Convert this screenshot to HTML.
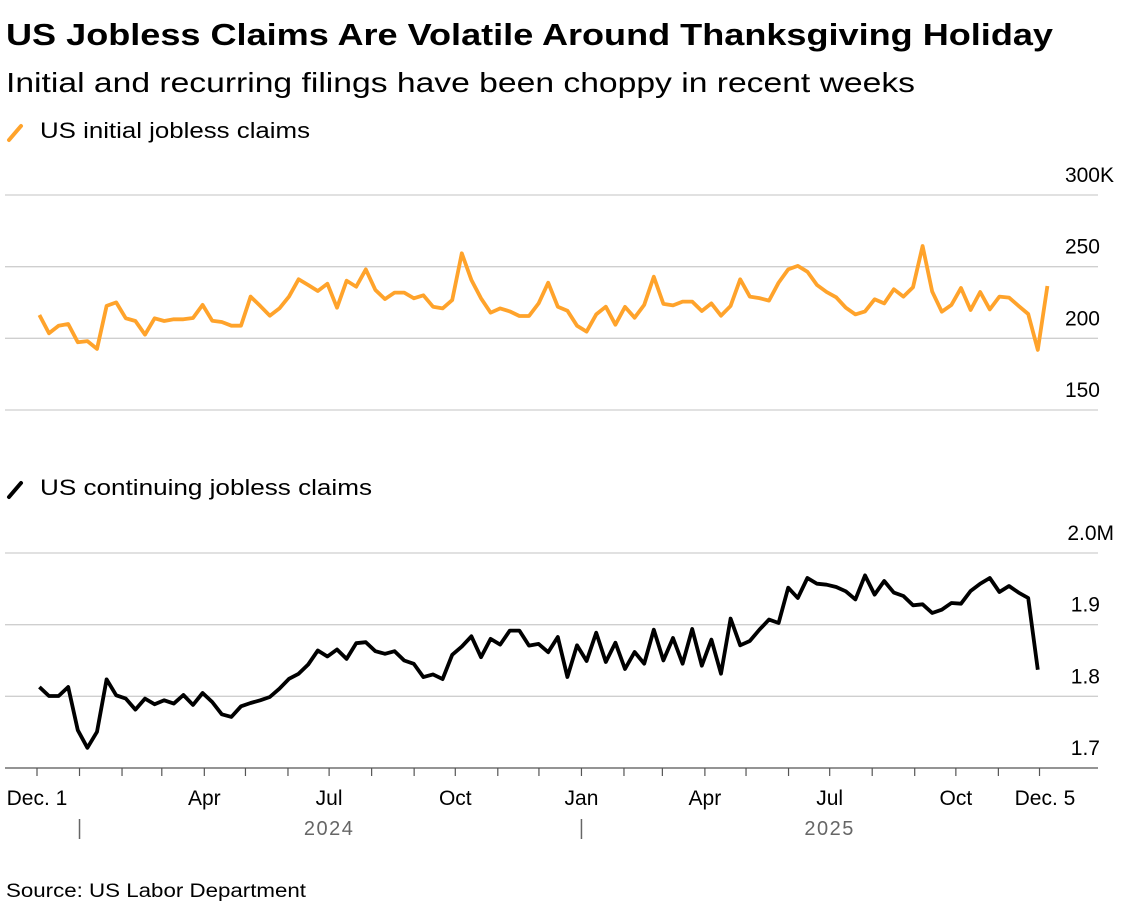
<!DOCTYPE html>
<html><head><meta charset="utf-8">
<style>
body{margin:0;background:#fff;font-family:"Liberation Sans",Arial,sans-serif;}
svg text{font-family:"Liberation Sans",Arial,sans-serif;}
</style></head>
<body>
<svg width="1122" height="918" viewBox="0 0 1122 918">
<text x="6" y="45" font-size="31" font-weight="bold" fill="#000" textLength="1047" lengthAdjust="spacingAndGlyphs">US Jobless Claims Are Volatile Around Thanksgiving Holiday</text>
<text x="6" y="92" font-size="28" fill="#000" textLength="909" lengthAdjust="spacingAndGlyphs">Initial and recurring filings have been choppy in recent weeks</text>
<g>
<line x1="9" y1="140" x2="21" y2="126" stroke="#ffa32b" stroke-width="4" stroke-linecap="round"/>
<text x="40" y="138" font-size="22" textLength="270" lengthAdjust="spacingAndGlyphs">US initial jobless claims</text></g>
<g>
<line x1="9" y1="497" x2="21" y2="483" stroke="#000" stroke-width="4" stroke-linecap="round"/>
<text x="40" y="495" font-size="22" textLength="332" lengthAdjust="spacingAndGlyphs">US continuing jobless claims</text></g>
<g id="grid1"></g>
<g id="grid2"></g>
<path id="line1" fill="none" stroke="#ffa32b" stroke-width="3.8" stroke-linejoin="round"/>
<path id="line2" fill="none" stroke="#000" stroke-width="3.8" stroke-linejoin="round"/>
<line x1="5" y1="768" x2="1098" y2="768" stroke="#555" stroke-width="1.2"/>
<g id="xaxis"></g>
<text x="6" y="897" font-size="19" textLength="300" lengthAdjust="spacingAndGlyphs">Source: US Labor Department</text>
</svg>
<script>
const initialClaims=[216.3,203.5,208.8,210,197.2,198.1,192.6,222.6,225.1,214,212.1,202.6,214,212.1,213.3,213.3,214.2,223.3,212.3,211.4,208.8,208.8,229.1,222.6,215.8,220.9,229.1,241.2,237.2,233,238.1,221.4,240.2,236,248.1,233.7,227.4,231.9,231.9,227.9,230,222.1,220.9,226.7,259.3,240.7,227.9,217.9,220.9,218.8,215.6,215.6,224.4,238.8,
222.1,219.3,208.8,204.7,216.7,222.1,209.5,221.9,214.4,223.3,243,224,223,225.6,225.6,219.1,224.4,215.8,222.6,241.2,229.1,228.1,226.3,238.8,248.1,250.5,246.5,237.2,232.3,228.6,221.4,216.7,218.8,227.2,224.4,234.2,229.1,235.6,264.4,232.6,218.6,223.3,235.1,219.8,232.3,220.2,229.1,228.4,222.6,217,191.9,236.5];
const continuingClaims=[1813,1800.5,1800.5,1813,1752.8,1728.2,1750.5,1823.6,1801.4,1796.8,1781.5,1796.8,1788.9,1794.4,1789.8,1801.9,1788,1804.6,1792.1,1775,1771.3,1786.1,1790.7,1794.4,1799.1,1810.6,1824.5,1831.5,1844.4,1863.9,1855.6,1865.3,1852.3,1874.1,1875.5,1863,1859.3,1863,1850,1845.4,1826.9,1830.6,1824.1,1857.9,1869.4,1883.8,1854.6,1880.1,1872.2,1891.7,1891.7,1870.8,1873.1,1861.6,
1882.8,1827,1871.2,1849.3,1888.8,1847.9,1874.9,1838.1,1861.9,1845.6,1893,1850.2,1881.4,1845.6,1894,1842.8,1879.1,1831.6,1908.4,1871.2,1877.2,1893,1907,1902.3,1951.6,1937.2,1965.1,1957.2,1955.8,1952.6,1946.5,1935.3,1968.8,1941.9,1960.9,1944.7,1940,1927,1928.4,1916.3,1920.9,1930.2,1929.3,1947,1957.2,1965.1,1945.6,1954,1944.7,1937.2,1837.2];
const initialTicks=[150,200,250,300];
const initialTickLabels=["150","200","250","300K"];
const contTicks=[1700,1800,1900,2000];
const contTickLabels=["1.7","1.8","1.9","2.0M"];
const monthLabels=[["Dec. 1",2023,11,1],["Apr",2024,3,1],["Jul",2024,6,1],["Oct",2024,9,1],["Jan",2025,0,1],["Apr",2025,3,1],["Jul",2025,6,1],["Oct",2025,9,1],["Dec. 5",2025,11,5]];

const NS="http://www.w3.org/2000/svg";
const t0=Date.UTC(2023,11,1), t1=Date.UTC(2025,11,5);
function xDate(t){return 37+(t-t0)/(t1-t0)*1008;}
function xWeek(i){return xDate(Date.UTC(2023,11,2)+i*7*86400000)+1;}
function y1(v){return 410-(v-150)*215/150;}
function y2(v){return 768-(v-1700)*215/300;}
function mk(tag,attrs,parent){const e=document.createElementNS(NS,tag);for(const k in attrs)e.setAttribute(k,attrs[k]);parent.appendChild(e);return e;}

function grid(gid,ticks,labels,yf,skipFirst){
 const g=document.getElementById(gid);
 ticks.forEach((v,i)=>{
  if(!(skipFirst&&i===0)){
   const l=mk('line',{x1:5,x2:1098,y1:yf(v),y2:yf(v),stroke:'#cfcfcf','stroke-width':1.3},g);
   
   
  }
  const t=mk('text',{x:1100,y:yf(v)-13,'font-size':21,'text-anchor':'end'},g);
  if(labels[i].length>3){t.setAttribute('x',1114);}
  t.textContent=labels[i];
  
  
 });
}
grid('grid1',initialTicks,initialTickLabels,y1,false);
grid('grid2',contTicks,contTickLabels,y2,true);

document.getElementById('line1').setAttribute('d',initialClaims.map((v,i)=>(i?'L':'M')+xWeek(i).toFixed(1)+','+y1(v).toFixed(1)).join(''));
document.getElementById('line2').setAttribute('d',continuingClaims.map((v,i)=>(i?'L':'M')+xWeek(i).toFixed(1)+','+y2(v).toFixed(1)).join(''));

const xa=document.getElementById('xaxis');
for(let m=0;m<25;m++){
 const t=Date.UTC(2023,11+m,1);
 if(t>t1)break;
 const tk=mk('line',{x1:xDate(t),x2:xDate(t),y1:768,y2:776,stroke:'#555','stroke-width':1.2},xa);
 
 
}
monthLabels.forEach(d=>{
 const x=xDate(Date.UTC(d[1],d[2],d[3]));
 const t=mk('text',{x:x,y:805,'font-size':21,'text-anchor':'middle'},xa);
 t.textContent=d[0];
 
 
});
[[2024,2024],[2025,2025]].forEach(d=>{
 const xs=xDate(Date.UTC(d[0],0,1));
 const s=mk('line',{x1:xs,x2:xs,y1:819,y2:839,stroke:'#666','stroke-width':1.5},xa);
 
 
 const xm=xDate(Date.UTC(d[0],6,1));
 const t=mk('text',{x:xm,y:835,'font-size':20,'text-anchor':'middle',fill:'#666','letter-spacing':'1.5'},xa);
 t.textContent=String(d[1]);
 
 
});
</script>
</body></html>
